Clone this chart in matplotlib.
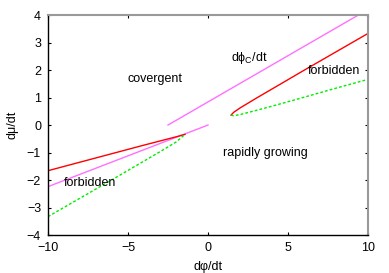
import matplotlib
matplotlib.use("Agg")
import matplotlib.pyplot as plt

plt.rcParams['font.family'] = ['Liberation Sans', 'DejaVu Sans']
plt.rcParams['mathtext.fontset'] = 'custom'
plt.rcParams['mathtext.rm'] = 'Liberation Sans'
plt.rcParams['mathtext.it'] = 'Liberation Sans'

# data
red_right_x = [1.44, 1.6, 2.0, 3.0, 4.0, 6.0, 8.0, 10.0]
red_right_y = [0.36, 0.46, 0.62, 0.97, 1.31, 1.99, 2.66, 3.33]
green_right_x = [1.44, 1.6, 2.0, 3.0, 4.0, 6.0, 8.0, 10.0]
green_right_y = [0.36, 0.34, 0.38, 0.53, 0.685, 1.01, 1.34, 1.66]

red_left_x = [-10.0, -8.0, -6.0, -4.0, -3.0, -2.0, -1.44]
red_left_y = [-1.66, -1.35, -1.04, -0.73, -0.58, -0.43, -0.34]
green_left_x = [-10.0, -8.0, -6.0, -4.0, -3.0, -2.0, -1.44]
green_left_y = [-3.33, -2.66, -1.99, -1.31, -0.97, -0.62, -0.34]

mag_up_x = [-2.5, 9.4]
mag_up_y = [0.0, 4.0]
mag_low_x = [-10.0, 0.0]
mag_low_y = [-2.24, 0.0]

fig = plt.figure(figsize=(3.89, 2.73), dpi=100)
ax = fig.add_axes([0.1234, 0.139, 0.8226, 0.806])

violet = '#ff70ff'
ax.plot(mag_up_x, mag_up_y, color=violet, lw=1.0)
ax.plot(mag_low_x, mag_low_y, color=violet, lw=1.0)
ax.plot(red_right_x, red_right_y, color='red', lw=1.0)
ax.plot(red_left_x, red_left_y, color='red', lw=1.0)
ax.plot(green_right_x, green_right_y, color='#00ee00', lw=1.0, dashes=(2, 1.5))
ax.plot(green_left_x, green_left_y, color='#00ee00', lw=1.0, dashes=(2, 1.5))

# labels inside
fs = 9
ax.text(-3.3, 1.67, 'covergent', fontsize=fs, ha='center', va='center')
ax.text(2.6, 2.44, r'd$\phi_{\mathrm{C}}$/dt', fontsize=fs, ha='center', va='center')
ax.text(7.86, 1.97, 'forbidden', fontsize=fs, ha='center', va='center')
ax.text(-7.4, -2.12, 'forbidden', fontsize=fs, ha='center', va='center')
ax.text(3.6, -1.03, 'rapidly growing', fontsize=fs, ha='center', va='center')

ax.set_xlim(-10, 10)
ax.set_ylim(-4, 4)
ax.set_xticks([-10, -5, 0, 5, 10])
ax.set_yticks([-4, -3, -2, -1, 0, 1, 2, 3, 4])
ax.tick_params(direction='in', top=True, right=True, length=2.5, width=0.8,
               labelsize=fs, pad=5)
ax.set_xlabel('dφ/dt', fontsize=fs, labelpad=5)
ax.set_ylabel('dμ/dt', fontsize=fs, labelpad=6)

for s in ['left', 'bottom']:
    ax.spines[s].set_color('black')
    ax.spines[s].set_linewidth(1.0)
for s in ['top', 'right']:
    ax.spines[s].set_color('#999999')
    ax.spines[s].set_linewidth(1.5)

fig.savefig('out.png', dpi=100)
